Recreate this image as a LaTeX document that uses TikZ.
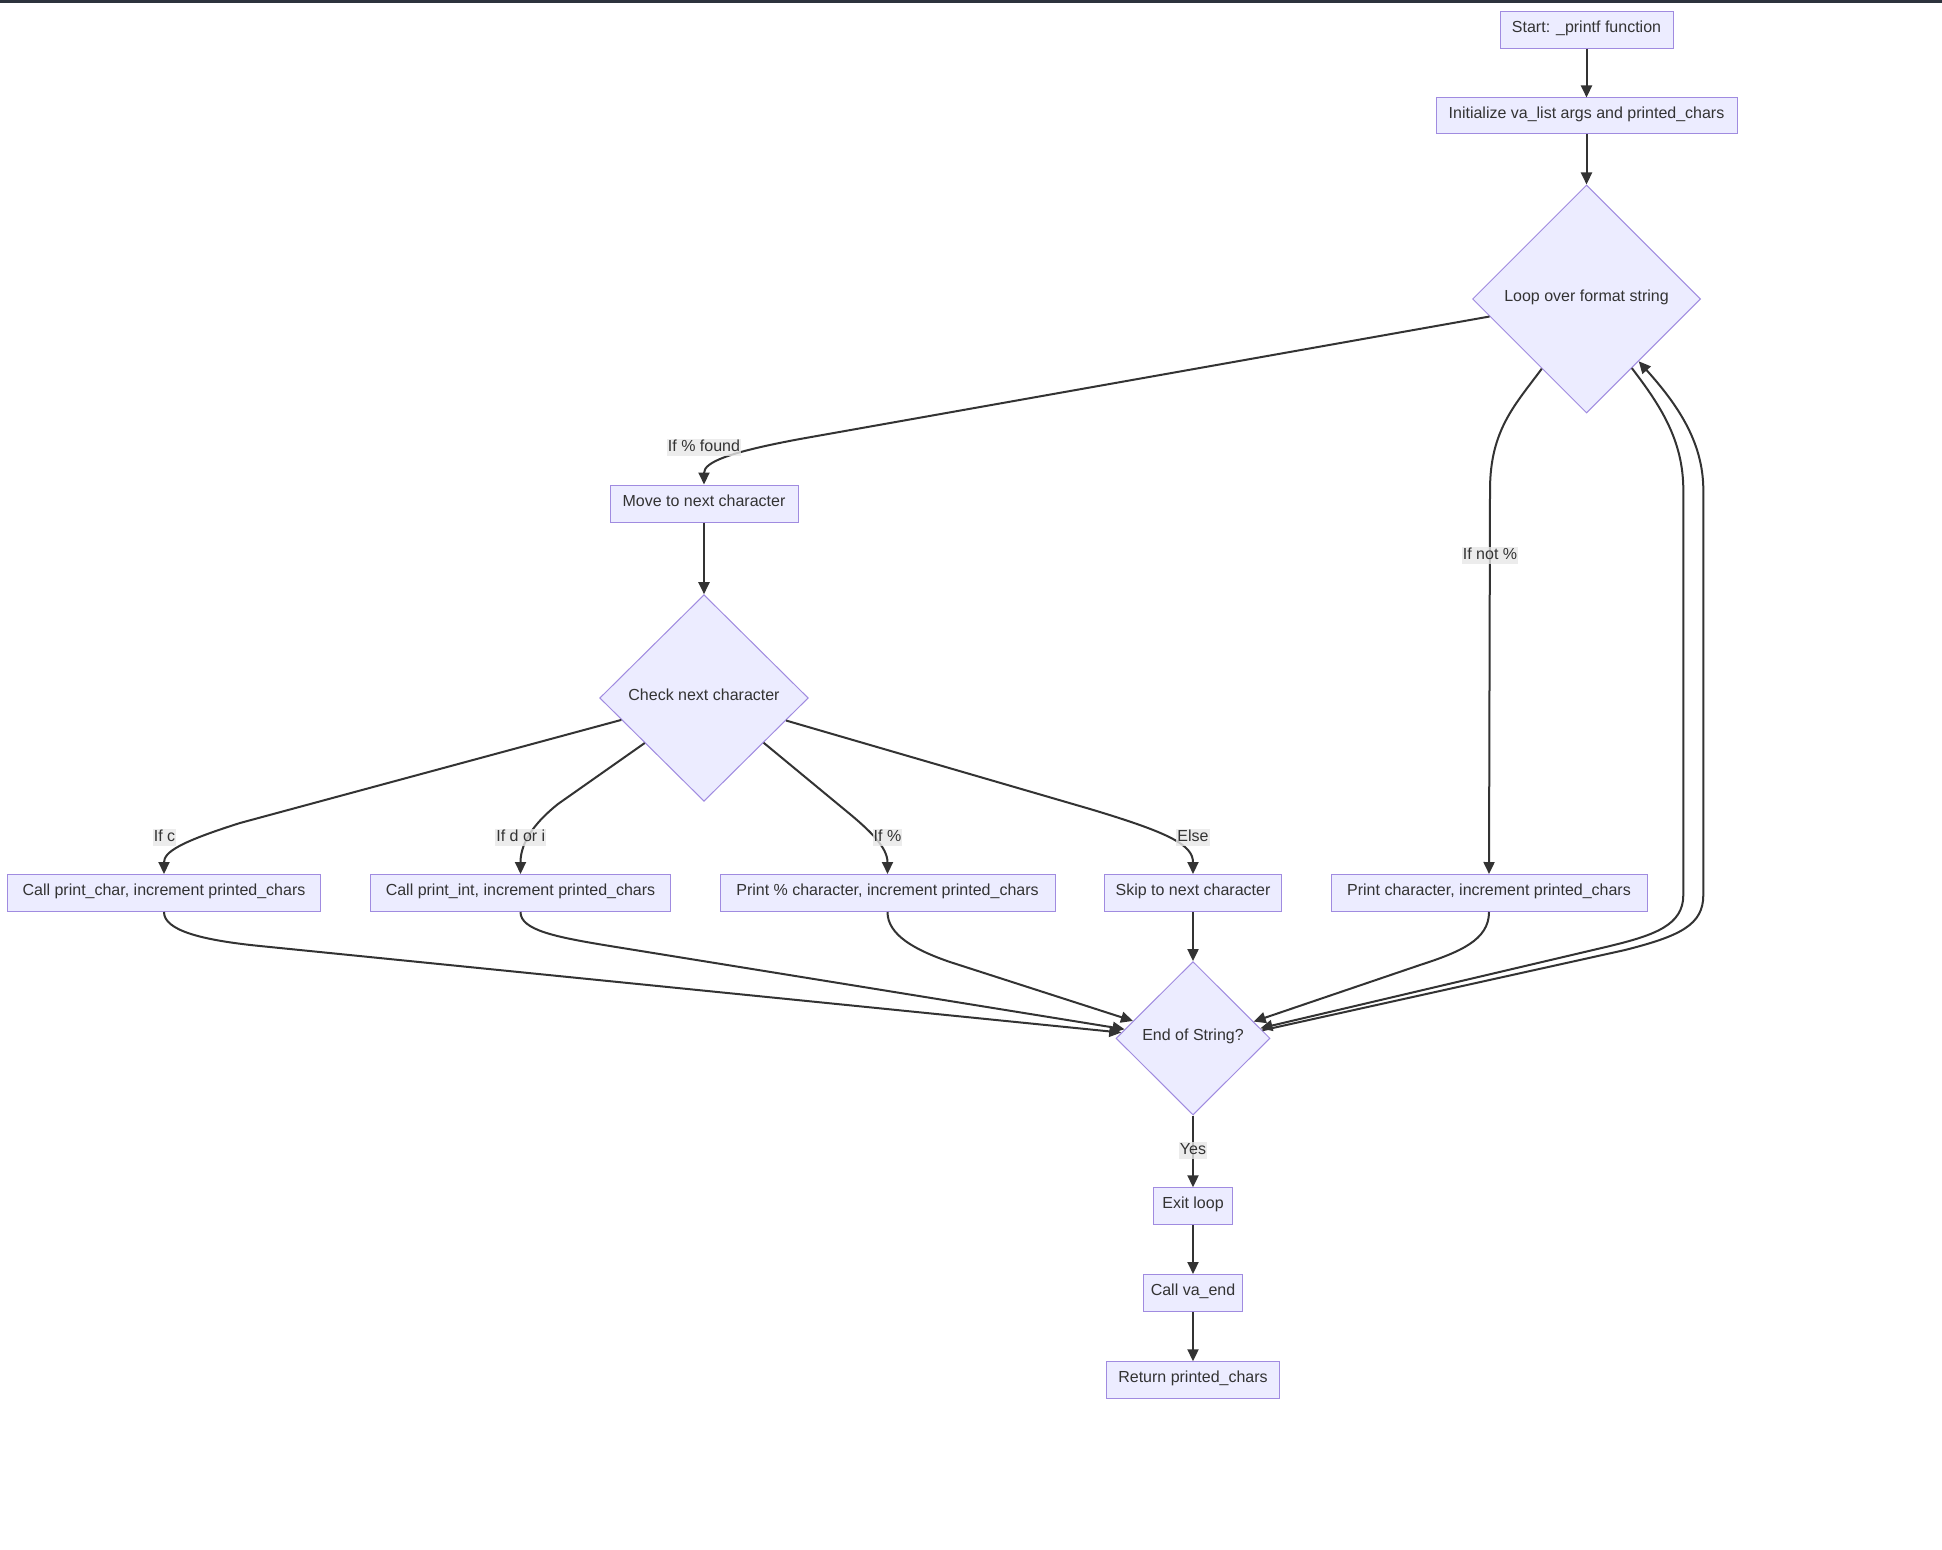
\documentclass[tikz,border=0pt]{standalone}
\usepackage{fontspec}
\setmainfont{Liberation Sans}
\usetikzlibrary{shapes.geometric,arrows.meta,calc}
\definecolor{nfill}{HTML}{ECECFF}
\definecolor{ndraw}{HTML}{A08BE0}
\definecolor{ink}{HTML}{333333}
\definecolor{lblbg}{HTML}{E8E8E8}
\definecolor{topbar}{HTML}{2D333D}
\begin{document}
\begin{tikzpicture}[x=1pt,y=-1pt,
  txt/.style={text=ink, font=\fontsize{16}{19}\selectfont},
  box/.style={txt, draw=ndraw, fill=nfill, line width=1pt, rectangle, minimum height=37pt, inner sep=0pt, text height=12pt, text depth=7pt},
  dia/.style={txt, draw=ndraw, fill=nfill, line width=1pt, diamond, aspect=1, inner sep=0pt, text height=12pt, text depth=7pt},
  edge/.style={draw=ink, line width=2pt, -{Triangle[length=12pt,width=11pt]}},
  lbl/.style={txt, fill=lblbg, fill opacity=0.8, text opacity=1, inner sep=1pt, text height=12pt, text depth=3.5pt}
]
\useasboundingbox (0,0) rectangle (1942,1549);
\fill[white] (0,0) rectangle (1942,1549);
\fill[topbar] (0,0) rectangle (1942,3);

% nodes
\node[box, minimum width=173pt] (start) at (1586.5,29.7) {Start: \_printf function};
\node[box, minimum width=301pt, minimum height=36pt] (init) at (1586.5,116) {Initialize va\_list args and printed\_chars};
\node[dia, minimum width=228pt, minimum height=228pt] (loop) at (1586.5,299) {Loop over format string};
\node[box, minimum width=188pt] (move) at (704,503.5) {Move to next character};
\node[dia, minimum width=208.6pt, minimum height=206.6pt] (check) at (704,698) {Check next character};
\node[box, minimum width=313pt] (pchar) at (164,893) {Call print\_char, increment printed\_chars};
\node[box, minimum width=300pt] (pint) at (520.5,893) {Call print\_int, increment printed\_chars};
\node[box, minimum width=335pt] (ppct) at (887.5,893) {Print \% character, increment printed\_chars};
\node[box, minimum width=177.5pt] (skip) at (1193,893) {Skip to next character};
\node[box, minimum width=316pt] (pother) at (1489,893) {Print character, increment printed\_chars};
\node[dia, minimum width=154pt, minimum height=153.4pt] (end) at (1193,1038.3) {End of String?};
\node[box, minimum width=79.4pt] (exit) at (1193,1206.3) {Exit loop};
\node[box, minimum width=99.4pt] (vaend) at (1193,1293) {Call va\_end};
\node[box, minimum width=172.6pt] (ret) at (1193,1380.3) {Return printed\_chars};

% edges
\draw[edge] (start) -- (init);
\draw[edge] (init) -- (loop);
\draw[edge] ($(loop.west)!0.153!(loop.south)$) -- (800,439) .. controls (730,452) and (704,462) .. (move.north);
\draw[edge] ($(loop.west)!0.609!(loop.south)$) .. controls (1515,405) and (1490,430) .. (1490,490) -- (pother.north);
\draw[edge] (move) -- (check);
\draw[edge] ($(check.west)!0.211!(check.south)$) -- (240,823) .. controls (180,842) and (164,852) .. (pchar.north);
\draw[edge] ($(check.west)!0.434!(check.south)$) -- (558,804) .. controls (538,820) and (520.5,840) .. (pint.north);
\draw[edge] ($(check.south)!0.569!(check.east)$) -- (845,810) .. controls (872,832) and (887.5,848) .. (ppct.north);
\draw[edge] ($(check.south)!0.783!(check.east)$) -- (1090,809) .. controls (1170,833) and (1193,845) .. (skip.north);

\draw[edge] (pchar.south) .. controls (164,930) and (200,940) .. (260,946) -- ($(end.west)!0.074!(end.north)$);
\draw[edge] (pint.south) .. controls (520.5,930) and (555,937) .. (610,946) -- ($(end.west)!0.117!(end.north)$);
\draw[edge] (ppct.south) .. controls (887.5,935) and (915,950) .. (950,962) -- ($(end.west)!0.225!(end.north)$);
\draw[edge] (skip) -- (end);
\draw[edge] (pother.south) .. controls (1489,940) and (1460,952) .. (1420,965) -- ($(end.east)!0.217!(end.north)$);
\draw[edge] ($(loop.south)!0.396!(loop.east)$) .. controls (1660,405) and (1683.3,440) .. (1683.3,490) -- (1683.3,895) .. controls (1683.3,925) and (1655,935) .. (1610,946) -- ($(end.east)!0.13!(end.north)$);
\draw[edge] ($(end.east)!0.104!(end.north)$) -- (1625,950) .. controls (1680,936) and (1703.3,925) .. (1703.3,895) -- (1703.3,490) .. controls (1703.3,440) and (1675,402) .. ($(loop.south)!0.456!(loop.east)$);
\draw[edge] (end) -- (exit);
\draw[edge] (exit) -- (vaend);
\draw[edge] (vaend) -- (ret);

% labels
\node[lbl] (l1) at (704,447.5) {If \% found};
\node[lbl] (l2) at (1490,555.5) {If not \%};
\node[lbl] (l3) at (164.5,837.5) {If c};
\node[lbl] (l4) at (520.8,837.5) {If d or i};
\node[lbl] (l5) at (887.5,837.5) {If \%};
\node[lbl] (l6) at (1193,837.5) {Else};
\node[lbl] (l7) at (1193,1150.3) {Yes};
\end{tikzpicture}
\end{document}
